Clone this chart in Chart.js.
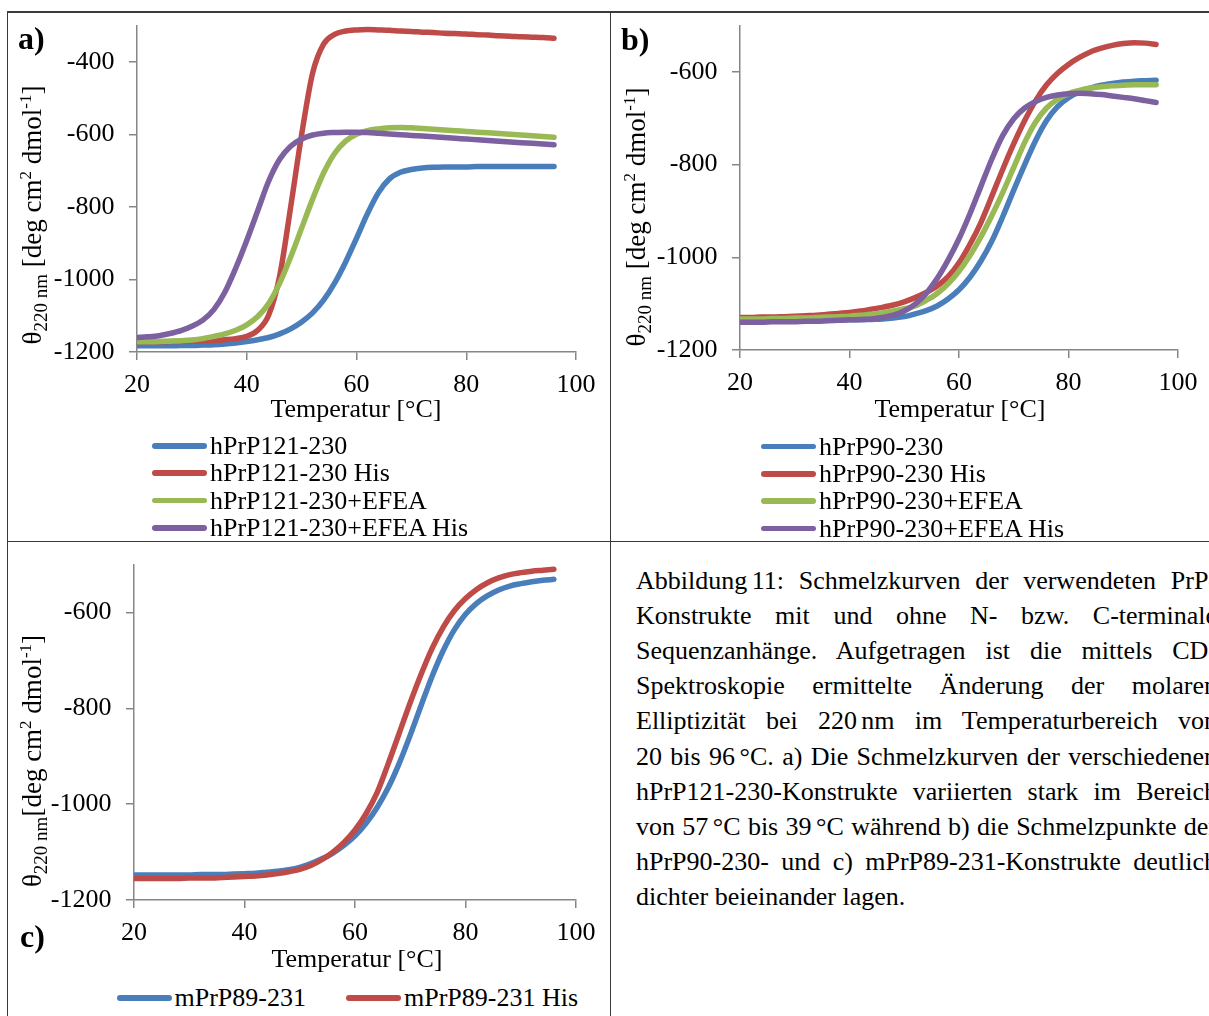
<!DOCTYPE html>
<html lang="de">
<head>
<meta charset="utf-8">
<title>Schmelzkurven</title>
<script src="https://cdn.jsdelivr.net/npm/chart.js@4.4.1/dist/chart.umd.min.js"></script>
<style>
  html, body { margin: 0; padding: 0; overflow: hidden; background: #fff; }
  body { width: 1209px; height: 1016px; position: relative; font-family: 'Liberation Serif', 'Times New Roman', serif; color: #000; }
  canvas { position: absolute; }
  .rule { position: absolute; background: #3a3a3a; }
  .panel-label { position: absolute; font-size: 32px; font-weight: bold; line-height: 36px; }
  .xtitle { position: absolute; font-size: 26px; line-height: 30px; white-space: nowrap; transform: translateX(-50%); }
  .ytitle { position: absolute; font-size: 27px; line-height: 30px; white-space: nowrap; transform: translate(-50%, -50%) rotate(-90deg); }
  .ytitle sub { font-size: 19px; vertical-align: -6px; line-height: 0; }
  .ytitle sup { font-size: 17px; vertical-align: 10px; line-height: 0; }
  .legend { position: absolute; font-size: 26px; }
  .legend .row { display: flex; align-items: center; height: 27.3px; white-space: nowrap; }
  .legend .inline { display: inline-flex; align-items: center; white-space: nowrap; }
  .legend .swatch { display: inline-block; width: 55px; height: 5.5px; border-radius: 3px; margin-right: 3px; }
  .caption { position: absolute; left: 636px; top: 562.5px; width: 581px; font-size: 26px; line-height: 35.2px; }
  .caption div { text-align: justify; text-align-last: justify; white-space: nowrap; }
  .caption div.last { text-align-last: left; }
  .nb { display: inline-block; word-spacing: -0.08em; }
</style>
</head>
<body>

<!-- table rules around the three panels and the caption cell -->
<div class="rule" style="left:7px; top:11px; width:1202px; height:1.5px;"></div>
<div class="rule" style="left:6.5px; top:11px; width:1.5px; height:1005px;"></div>
<div class="rule" style="left:609.5px; top:11px; width:1.5px; height:1005px;"></div>
<div class="rule" style="left:7px; top:540.5px; width:1202px; height:1.5px;"></div>

<canvas id="chartA" width="610" height="420" style="left:0; top:0;"></canvas>
<canvas id="chartB" width="599" height="420" style="left:610px; top:0;"></canvas>
<canvas id="chartC" width="610" height="420" style="left:0; top:541px;"></canvas>

<div class="panel-label" style="left:18px; top:19.5px;">a)</div>
<div class="panel-label" style="left:621px; top:21px;">b)</div>
<div class="panel-label" style="left:20px; top:918px;">c)</div>

<div class="ytitle" style="left:32px; top:215px;">θ<sub>220 nm</sub> [deg cm<sup>2</sup> dmol<sup>-1</sup>]</div>
<div class="ytitle" style="left:636px; top:217px;">θ<sub>220 nm</sub> [deg cm<sup>2</sup> dmol<sup>-1</sup>]</div>
<div class="ytitle" style="left:32px; top:761px;">θ<sub>220 nm</sub>[deg cm<sup>2</sup> dmol<sup>-1</sup>]</div>

<div class="xtitle" style="left:356px; top:394.3px;">Temperatur [°C]</div>
<div class="xtitle" style="left:960px; top:393.5px;">Temperatur [°C]</div>
<div class="xtitle" style="left:357px; top:943.8px;">Temperatur [°C]</div>

<div class="legend" id="legendA" style="left:152px; top:432.3px;"></div>
<div class="legend" id="legendB" style="left:761px; top:433px;"></div>
<div class="legend" id="legendC" style="left:116.5px; top:984.3px;"></div>

<div class="caption">
  <div><span class="nb">Abbildung 11:</span> Schmelzkurven der verwendeten PrP-</div>
  <div>Konstrukte mit und ohne N- bzw. C-terminale</div>
  <div>Sequenzanhänge. Aufgetragen ist die mittels CD-</div>
  <div>Spektroskopie ermittelte Änderung der molaren</div>
  <div>Elliptizität bei <span class="nb">220 nm</span> im Temperaturbereich von</div>
  <div>20 bis <span class="nb">96 °C.</span> a) Die Schmelzkurven der verschiedenen</div>
  <div>hPrP121-230-Konstrukte variierten stark im Bereich</div>
  <div>von <span class="nb">57 °C</span> bis <span class="nb">39 °C</span> während b) die Schmelzpunkte der</div>
  <div>hPrP90-230- und c) mPrP89-231-Konstrukte deutlich</div>
  <div class="last">dichter beieinander lagen.</div>
</div>

<script>
// Temperature grid of the CD melting scans (°C)
const tempC = [20, 22, 24, 26, 28, 30, 32, 34, 36, 38, 40, 42, 44, 46, 48, 50, 52, 54, 56, 58,
               60, 62, 64, 66, 68, 70, 72, 74, 76, 78, 80, 82, 84, 86, 88, 90, 92, 94, 96];

// a) hPrP121-230 constructs, molar ellipticity at 220 nm
const a_hPrP121 = [-1183, -1183, -1183, -1183, -1182, -1182, -1181, -1180, -1178, -1175,
                   -1171, -1166, -1160, -1150, -1136, -1117, -1092, -1057, -1010, -952,
                   -886, -818, -760, -722, -704, -696, -692, -690, -689, -689,
                   -689, -688, -688, -688, -688, -688, -688, -688, -688];
const a_hPrP121His = [-1172, -1172, -1172, -1171, -1171, -1170, -1169, -1168, -1166, -1163,
                      -1157, -1140, -1098, -990, -800, -600, -430, -350, -323, -314,
                      -311, -310, -311, -312, -314, -315, -317, -318, -320, -321,
                      -322, -324, -325, -327, -328, -330, -331, -332, -334];
const a_hPrP121Efea = [-1172, -1172, -1171, -1170, -1169, -1167, -1163, -1157, -1150, -1140,
                       -1125, -1102, -1066, -1010, -938, -858, -778, -706, -652, -618,
                       -599, -589, -584, -581, -580, -581, -583, -585, -587, -589,
                       -591, -593, -595, -597, -599, -601, -603, -605, -607];
const a_hPrP121EfeaHis = [-1160, -1158, -1155, -1149, -1141, -1129, -1112, -1083, -1035, -968,
                          -892, -810, -728, -668, -632, -612, -601, -596, -594, -593,
                          -593, -594, -596, -598, -600, -602, -604, -606, -608, -610,
                          -612, -614, -616, -618, -620, -622, -624, -626, -628];

// b) hPrP90-230 constructs
const b_hPrP90 = [-1137, -1137, -1137, -1137, -1137, -1137, -1136, -1136, -1136, -1136,
                  -1135, -1135, -1134, -1133, -1131, -1128, -1122, -1115, -1105, -1090,
                  -1070, -1043, -1008, -965, -912, -855, -800, -748, -705, -675,
                  -656, -643, -635, -629, -625, -622, -620, -619, -618];
const b_hPrP90His = [-1130, -1130, -1129, -1129, -1128, -1127, -1126, -1125, -1123, -1121,
                     -1119, -1116, -1112, -1108, -1103, -1096, -1087, -1076, -1062, -1042,
                     -1012, -972, -925, -868, -810, -755, -705, -662, -628, -603,
                     -584, -569, -557, -549, -543, -539, -537, -538, -541];
const b_hPrP90Efea = [-1133, -1133, -1133, -1132, -1132, -1131, -1131, -1130, -1129, -1128,
                      -1127, -1125, -1123, -1120, -1116, -1111, -1105, -1093, -1078, -1057,
                      -1030, -996, -956, -910, -860, -806, -752, -708, -678, -659,
                      -647, -640, -635, -632, -630, -629, -628, -628, -628];
const b_hPrP90EfeaHis = [-1140, -1140, -1140, -1139, -1139, -1139, -1138, -1138, -1137, -1136,
                         -1135, -1134, -1133, -1130, -1125, -1116, -1101, -1078, -1046, -1006,
                         -960, -906, -847, -788, -737, -701, -678, -664, -655, -650,
                         -647, -646, -647, -649, -652, -655, -658, -662, -666];

// c) mPrP89-231 constructs
const c_mPrP89 = [-1148, -1148, -1148, -1148, -1148, -1148, -1147, -1147, -1147, -1146,
                  -1145, -1144, -1142, -1140, -1137, -1132, -1124, -1114, -1102, -1086,
                  -1066, -1040, -1007, -966, -915, -856, -793, -732, -679, -636,
                  -604, -581, -565, -553, -545, -540, -536, -533, -531];
const c_mPrP89His = [-1155, -1155, -1155, -1155, -1155, -1154, -1154, -1154, -1153, -1152,
                     -1151, -1150, -1148, -1145, -1141, -1136, -1128, -1116, -1100, -1080,
                     -1054, -1020, -976, -916, -852, -788, -728, -674, -630, -596,
                     -571, -552, -538, -528, -521, -517, -514, -512, -510];

// Series names and axis tick labels
const namesA = ['hPrP121-230', 'hPrP121-230 His', 'hPrP121-230+EFEA', 'hPrP121-230+EFEA His'];
const namesB = ['hPrP90-230', 'hPrP90-230 His', 'hPrP90-230+EFEA', 'hPrP90-230+EFEA His'];
const namesC = ['mPrP89-231', 'mPrP89-231 His'];
const xTicks = [20, 40, 60, 80, 100];
const yTicksA = [-1200, -1000, -800, -600, -400];
const yTicksB = [-1200, -1000, -800, -600];
const yTicksC = [-1200, -1000, -800, -600];

// Office-style series colours: blue, red, green, purple
const palette = ['#4A7EBB', '#BE4B48', '#98B954', '#7D60A0'];
const axisGray = '#868686';
const tickFont = { family: "'Liberation Serif', 'Times New Roman', serif", size: 26 };

function makeDatasets(seriesList, names) {
  return seriesList.map((values, i) => ({
    label: names[i],
    data: tempC.map((t, k) => ({ x: t, y: values[k] })),
    borderColor: palette[i],
    backgroundColor: palette[i],
    order: seriesList.length - i   // later series are painted on top
  }));
}

function makeOptions(cfg) {
  return {
    responsive: false,
    animation: false,
    events: [],
    layout: { padding: cfg.padding },
    plugins: { legend: { display: false }, tooltip: { enabled: false } },
    elements: {
      point: { radius: 0 },
      line: { borderWidth: 5.5, borderCapStyle: 'round', borderJoinStyle: 'round', cubicInterpolationMode: 'monotone' }
    },
    scales: {
      x: {
        type: 'linear', min: 20, max: 100,
        afterBuildTicks: s => { s.ticks = xTicks.map(v => ({ value: v })); },
        afterFit: s => { s.height = cfg.xHeight; s.paddingLeft = 0; s.paddingRight = 0; },
        grid: { drawOnChartArea: false, drawTicks: true, tickLength: 8, color: axisGray, lineWidth: 1.5 },
        border: { display: true, color: axisGray, width: 1.5 },
        ticks: { font: tickFont, color: '#000', padding: 10, maxRotation: 0, autoSkip: false,
                 callback: v => String(v) }
      },
      y: {
        type: 'linear', min: -1200, max: cfg.yMax,
        afterBuildTicks: s => { s.ticks = cfg.yTicks.map(v => ({ value: v })); },
        afterFit: s => { s.width = cfg.yWidth; s.paddingTop = 0; s.paddingBottom = 0; },
        grid: { drawOnChartArea: false, drawTicks: true, tickLength: 8, color: axisGray, lineWidth: 1.5 },
        border: { display: true, color: axisGray, width: 1.5 },
        ticks: { font: tickFont, color: '#000', padding: 14.5, autoSkip: false,
                 callback: v => String(v) }
      }
    }
  };
}

new Chart(document.getElementById('chartA'), {
  type: 'line',
  data: { datasets: makeDatasets([a_hPrP121, a_hPrP121His, a_hPrP121Efea, a_hPrP121EfeaHis], namesA) },
  options: makeOptions({ yMax: -300, yTicks: yTicksA, yWidth: 137, xHeight: 68,
                         padding: { left: 0, right: 34, top: 26, bottom: 0 } })
});

new Chart(document.getElementById('chartB'), {
  type: 'line',
  data: { datasets: makeDatasets([b_hPrP90, b_hPrP90His, b_hPrP90Efea, b_hPrP90EfeaHis], namesB) },
  options: makeOptions({ yMax: -500, yTicks: yTicksB, yWidth: 130, xHeight: 70,
                         padding: { left: 0, right: 31, top: 25.5, bottom: 0 } })
});

new Chart(document.getElementById('chartC'), {
  type: 'line',
  data: { datasets: makeDatasets([c_mPrP89, c_mPrP89His], namesC) },
  options: makeOptions({ yMax: -500, yTicks: yTicksC, yWidth: 134, xHeight: 61,
                         padding: { left: 0, right: 34, top: 23.5, bottom: 0 } })
});

// Legends: a stacked list for a) and b), a single row for c)
function fillLegend(id, names, stacked) {
  const box = document.getElementById(id);
  names.forEach((name, i) => {
    const item = document.createElement(stacked ? 'div' : 'span');
    item.className = stacked ? 'row' : 'inline';
    if (!stacked && i > 0) item.style.marginLeft = '40px';
    const sw = document.createElement('span');
    sw.className = 'swatch';
    sw.style.background = palette[i];
    item.appendChild(sw);
    item.appendChild(document.createTextNode(name));
    box.appendChild(item);
  });
  if (!stacked) { box.style.display = 'flex'; box.style.alignItems = 'center'; box.style.height = '27.3px'; }
}
fillLegend('legendA', namesA, true);
fillLegend('legendB', namesB, true);
fillLegend('legendC', namesC, false);
</script>
</body>
</html>
